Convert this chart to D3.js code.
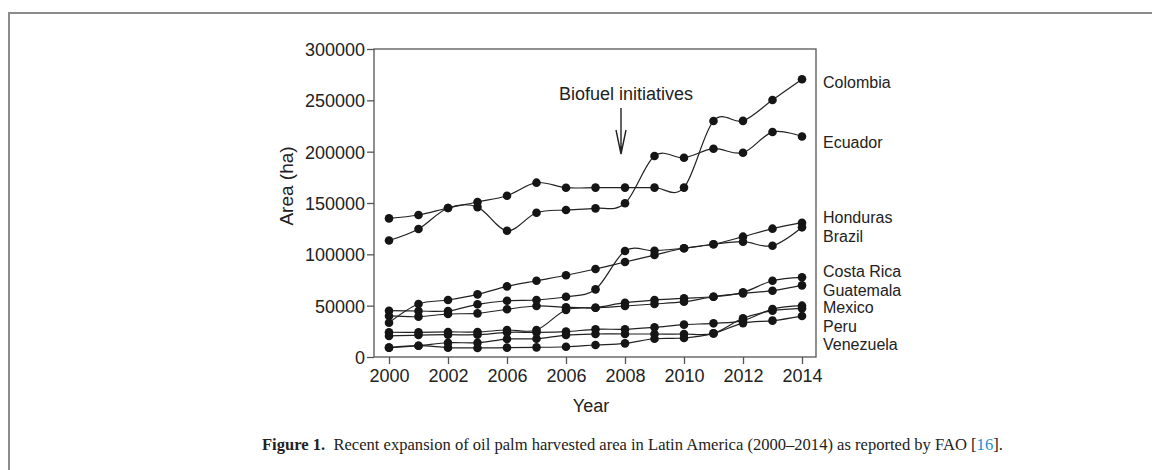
<!DOCTYPE html>
<meta charset="utf-8">
<title>Oil palm harvested area in Latin America</title>
<style>
  body { margin: 0; background: #fff; }
  svg text { font-family: "Liberation Sans", Arial, sans-serif; fill: #222; }
</style>
<body>
<script src="https://d3js.org/d3.v7.min.js"></script>
<script>
// ---- data (ha), one value per year 2000..2014 ----
var years = d3.range(2000, 2015);

var colombia   = [135000,138300,145100,151000,157100,169800,164900,165000,165000,165000,165000,229900,230000,250300,270500];
var ecuador    = [113500,124700,145100,146000,123000,140500,143200,144800,149700,195800,194100,202900,199000,219100,214800];
var honduras   = [33400,51600,55500,61000,68800,74300,79600,85700,92500,99300,105900,109800,117200,125000,130800];
var brazil     = [45100,44800,44800,51300,54800,55500,58700,65900,103200,103500,105900,109800,112300,108400,126300];
var costaRica  = [24100,24000,24400,24400,26300,26300,45800,48000,52900,55500,57200,58700,63000,74300,77600];
var guatemala  = [40000,39300,41900,42500,46500,49700,48500,48000,49700,51600,53900,58700,62000,64600,69800];
var mexico     = [20500,21400,21700,21700,24000,24000,24700,27000,27000,28900,31500,32800,35400,46700,50000];
var peru       = [9100,11000,13900,13900,17500,17800,21400,22400,22400,22400,22400,23000,37700,45100,47400];
var venezuela  = [9100,11000,9100,8800,9100,9400,10000,11700,13300,17800,18500,23000,33000,35400,39900];

var countries = ["Colombia","Ecuador","Honduras","Brazil","Costa Rica","Guatemala","Mexico","Peru","Venezuela"];
var seriesValues = [colombia, ecuador, honduras, brazil, costaRica, guatemala, mexico, peru, venezuela];

// tick labels as printed in the figure
var xTicks = [2000,2002,2004,2006,2008,2010,2012,2014];
var xTickLabels = ["2000","2002","2006","2006","2008","2010","2012","2014"];
var yTicks = [0,50000,100000,150000,200000,250000,300000];

// ---- layout ----
var W = 1152, H = 470;
var box = {left: 374, top: 49, right: 816, bottom: 357};
// baselines of the country labels on the right
var labelBaseline = [88, 148, 223, 242, 277, 296, 313, 332, 350];

var svg = d3.select("body").append("svg")
    .attr("width", W)
    .attr("height", H);

// figure frame (top and left rule)
svg.append("path")
    .attr("d", "M9,470V13H1152")
    .attr("fill", "none")
    .attr("stroke", "#8c8c8c")
    .attr("stroke-width", 2);

var x = d3.scaleLinear().domain([2000, 2014]).range([389, 802]);
var y = d3.scaleLinear().domain([0, 300000]).range([box.bottom, box.top]);

// plot box
svg.append("rect")
    .attr("x", box.left).attr("y", box.top)
    .attr("width", box.right - box.left)
    .attr("height", box.bottom - box.top)
    .attr("fill", "none")
    .attr("stroke", "#555")
    .attr("stroke-width", 1.3);

// y axis
var gy = svg.append("g")
    .attr("transform", "translate(" + box.left + ",0)")
    .call(d3.axisLeft(y).tickValues(yTicks).tickSize(7).tickSizeOuter(0).tickPadding(2).tickFormat(d3.format("d")));
gy.select(".domain").remove();
gy.selectAll(".tick line").attr("stroke", "#555").attr("stroke-width", 1.3);
gy.selectAll(".tick text").style("font-size", "18px").attr("dy", "0.36em");

// x axis
var gx = svg.append("g")
    .attr("transform", "translate(0," + box.bottom + ")")
    .call(d3.axisBottom(x).tickValues(xTicks).tickSize(7).tickSizeOuter(0).tickPadding(5)
      .tickFormat(function(d, i) { return xTickLabels[i]; }));
gx.select(".domain").remove();
gx.selectAll(".tick line").attr("stroke", "#555").attr("stroke-width", 1.3);
gx.selectAll(".tick text").style("font-size", "18px");

// axis titles
svg.append("text")
    .attr("x", 591).attr("y", 412)
    .attr("text-anchor", "middle")
    .style("font-size", "18px")
    .text("Year");

svg.append("text")
    .attr("transform", "translate(293,186) rotate(-90)")
    .attr("text-anchor", "middle")
    .style("font-size", "19px")
    .text("Area (ha)");

// series lines
var line = d3.line()
    .x(function(d, i) { return x(years[i]); })
    .y(function(d) { return y(d); })
    .curve(d3.curveCardinal.tension(0));

svg.append("g").selectAll("path")
    .data(seriesValues)
  .enter().append("path")
    .attr("d", line)
    .attr("fill", "none")
    .attr("stroke", "#222")
    .attr("stroke-width", 1.2);

// points
seriesValues.forEach(function(vals) {
  svg.append("g").selectAll("circle")
      .data(vals)
    .enter().append("circle")
      .attr("cx", function(d, i) { return x(years[i]); })
      .attr("cy", function(d) { return y(d); })
      .attr("r", 4.3)
      .attr("fill", "#151515");
});

// country labels
svg.append("g").selectAll("text")
    .data(countries)
  .enter().append("text")
    .attr("x", 823)
    .attr("y", function(d, i) { return labelBaseline[i]; })
    .style("font-size", "16px")
    .text(function(d) { return d; });

// biofuel annotation
var ax = x(2008) - 4;
svg.append("text")
    .attr("x", ax + 5).attr("y", 100)
    .attr("text-anchor", "middle")
    .style("font-size", "18px")
    .text("Biofuel initiatives");
svg.append("path")
    .attr("d", "M" + ax + ",108V154M" + (ax - 5) + ",130L" + ax + ",154L" + (ax + 5) + ",130")
    .attr("fill", "none")
    .attr("stroke", "#222")
    .attr("stroke-width", 1.4);

// caption
var cap = svg.append("text")
    .attr("x", 262).attr("y", 450)
    .style("font-family", "'Liberation Serif', 'Times New Roman', serif")
    .style("font-size", "17px");
cap.append("tspan").style("font-weight", "bold").text("Figure 1.");
cap.append("tspan").text("\u2002Recent expansion of oil palm harvested area in Latin America (2000\u20132014) as reported by FAO [");
cap.append("tspan").style("fill", "#1b8fd2").text("16");
cap.append("tspan").text("].");
// fit caption to the printed width
var capW = cap.node().getComputedTextLength();
cap.style("font-size", (17 * 741 / capW).toFixed(2) + "px");
</script>
</body>
